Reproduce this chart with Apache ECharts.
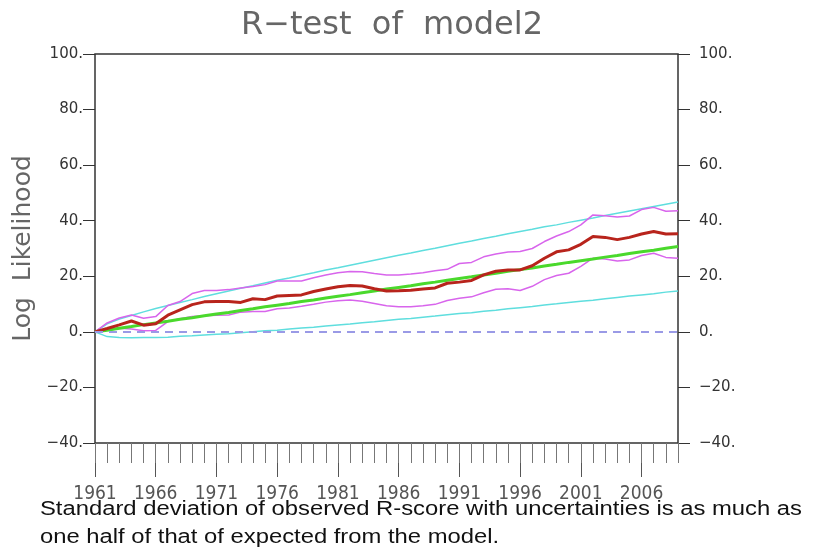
<!DOCTYPE html>
<html>
<head>
<meta charset="utf-8">
<title>R-test of model2</title>
<script src="https://cdn.jsdelivr.net/npm/echarts@6/dist/echarts.min.js"></script>
<style>
  html, body { margin: 0; padding: 0; background: #fff; }
  #main { width: 814px; height: 553px; }
</style>
</head>
<body>
<div id="main"></div>
<script>
// years 1961..2009
var years = [1961, 1962, 1963, 1964, 1965, 1966, 1967, 1968, 1969, 1970,
  1971, 1972, 1973, 1974, 1975, 1976, 1977, 1978, 1979, 1980,
  1981, 1982, 1983, 1984, 1985, 1986, 1987, 1988, 1989, 1990,
  1991, 1992, 1993, 1994, 1995, 1996, 1997, 1998, 1999, 2000,
  2001, 2002, 2003, 2004, 2005, 2006, 2007, 2008, 2009]
var tickYears = [1961, 1966, 1971, 1976, 1981, 1986, 1991, 1996, 2001, 2006]

// observed R-score (red)
var observed = [0, 1.2, 2.5, 3.9, 2.4, 2.9, 6.0, 7.9, 9.8, 10.8,
  10.9, 10.9, 10.6, 11.9, 11.6, 12.9, 13.1, 13.3, 14.5, 15.4,
  16.2, 16.7, 16.5, 15.5, 14.7, 14.8, 15.0, 15.4, 15.8, 17.5,
  17.9, 18.5, 20.5, 21.8, 22.3, 22.3, 23.8, 26.5, 28.8, 29.5,
  31.5, 34.3, 34.0, 33.2, 34.0, 35.2, 36.1, 35.2, 35.3]
// observed with uncertainties (magenta)
var obsUpper = [0, 3.2, 5.0, 6.1, 4.9, 5.5, 9.5, 10.9, 13.8, 14.9,
  14.9, 15.2, 15.8, 16.3, 17.0, 18.3, 18.3, 18.3, 19.5, 20.5,
  21.3, 21.7, 21.6, 21.0, 20.5, 20.5, 20.8, 21.3, 22.0, 22.5,
  24.6, 25.0, 27.0, 28.0, 28.7, 28.9, 30.0, 32.5, 34.5, 36.1,
  38.5, 42.1, 41.8, 41.3, 41.7, 44.0, 44.8, 43.4, 43.6]
var obsLower = [0, 0.8, 1.3, 1.0, 0.4, 0.5, 3.7, 4.7, 5.5, 5.8,
  6.0, 6.1, 7.1, 7.3, 7.3, 8.3, 8.6, 9.2, 9.9, 10.7,
  11.2, 11.5, 11.0, 10.2, 9.4, 9.0, 9.0, 9.4, 9.9, 11.3,
  12.1, 12.6, 14.1, 15.3, 15.5, 14.9, 16.4, 18.8, 20.3, 21.1,
  23.6, 26.5, 26.2, 25.5, 25.9, 27.5, 28.3, 26.8, 26.5]
// expected from the model (green) and its spread (cyan)
var expected = [0, 0.6, 1.3, 1.9, 2.6, 3.2, 3.8, 4.5, 5.1, 5.8,
  6.4, 7.0, 7.7, 8.3, 9.0, 9.6, 10.2, 10.9, 11.5, 12.2,
  12.8, 13.4, 14.1, 14.7, 15.4, 16.0, 16.6, 17.3, 17.9, 18.6,
  19.2, 19.8, 20.5, 21.1, 21.8, 22.4, 23.0, 23.7, 24.3, 25.0,
  25.6, 26.2, 26.9, 27.5, 28.2, 28.8, 29.4, 30.1, 30.7]
var expUpper = [0, 2.9, 4.6, 5.9, 7.2, 8.4, 9.5, 10.6, 11.6, 12.7,
  13.7, 14.7, 15.7, 16.6, 17.6, 18.6, 19.4, 20.4, 21.3, 22.3,
  23.1, 24.0, 24.9, 25.8, 26.7, 27.6, 28.4, 29.3, 30.1, 31.0,
  31.9, 32.7, 33.6, 34.4, 35.3, 36.1, 36.9, 37.8, 38.5, 39.4,
  40.2, 41.0, 41.9, 42.7, 43.5, 44.3, 45.1, 45.9, 46.7]
var expLower = [0, -1.7, -2.0, -2.1, -2.0, -2.0, -1.9, -1.6, -1.4, -1.1,
  -0.9, -0.7, -0.3, 0.0, 0.4, 0.6, 1.0, 1.4, 1.7, 2.1,
  2.5, 2.8, 3.3, 3.6, 4.1, 4.5, 4.8, 5.3, 5.7, 6.2,
  6.6, 6.9, 7.4, 7.8, 8.3, 8.7, 9.1, 9.7, 10.1, 10.6,
  11.0, 11.4, 11.9, 12.4, 12.9, 13.3, 13.7, 14.3, 14.7]

function pairs(vals) {
  return years.map(function (y, i) { return [y, vals[i]] })
}

var labelFont = 'DejaVu Sans'
var yLabel = function (v) { return String(v).replace('-', '\u2212') + '.' }

var chart = echarts.init(document.getElementById('main'))

var option = {
  animation: false,
  backgroundColor: '#fff',
  title: {
    text: 'R\u2212test  of  model2',
    left: 236,
    top: 5,
    textStyle: {
      fontFamily: labelFont,
      fontWeight: 'normal',
      fontSize: 32,
      color: '#666'
    }
  },
  grid: {
    left: 95,
    right: 136,
    top: 54,
    bottom: 110,
    show: true,
    borderColor: '#333',
    borderWidth: 1.5,
    backgroundColor: 'transparent'
  },
  xAxis: [
    {
      type: 'value',
      min: 1961,
      max: 2009,
      position: 'bottom',
      axisLine: { show: false, onZero: false },
      splitLine: { show: false },
      axisTick: {
        show: true,
        inside: false,
        length: 34,
        customValues: tickYears,
        lineStyle: { color: '#555', width: 1 }
      },
      axisLabel: {
        customValues: tickYears,
        margin: 42,
        fontFamily: 'Liberation Sans Narrow, DejaVu Sans Condensed, sans-serif',
        fontSize: 19,
        color: '#555',
        formatter: function (v) { return String(v) }
      }
    },
    {
      // yearly minor ticks
      type: 'value',
      min: 1961,
      max: 2009,
      interval: 1,
      position: 'bottom',
      axisLine: { show: false, onZero: false },
      splitLine: { show: false },
      axisLabel: { show: false },
      axisTick: {
        show: true,
        inside: false,
        length: 20,
        lineStyle: { color: '#777', width: 1 }
      }
    }
  ],
  yAxis: [
    {
      type: 'value',
      position: 'left',
      min: -40,
      max: 100,
      interval: 20,
      name: 'Log  Likelihood',
      nameLocation: 'middle',
      nameGap: 52,
      nameTextStyle: {
        fontFamily: labelFont,
        fontSize: 25,
        color: '#666'
      },
      axisLine: { show: false, onZero: false },
      splitLine: { show: false },
      axisTick: { show: true, inside: false, length: 12, lineStyle: { color: '#333' } },
      axisLabel: {
        margin: 12,
        fontFamily: labelFont,
        fontSize: 15,
        color: '#333',
        formatter: yLabel
      }
    },
    {
      type: 'value',
      position: 'right',
      min: -40,
      max: 100,
      interval: 20,
      axisLine: { show: false, onZero: false },
      splitLine: { show: false },
      axisTick: { show: true, inside: false, length: 12, lineStyle: { color: '#333' } },
      axisLabel: {
        margin: 21,
        fontFamily: labelFont,
        fontSize: 15,
        color: '#333',
        formatter: yLabel
      }
    }
  ],
  series: [
    {
      name: 'expected upper',
      type: 'line',
      data: pairs(expUpper),
      symbol: 'none',
      lineStyle: { color: '#5fdede', width: 1.5 },
      markLine: {
        silent: true,
        symbol: 'none',
        label: { show: false },
        lineStyle: { color: '#9a9ae6', width: 2, type: [8, 6] },
        data: [{ yAxis: 0 }]
      }
    },
    {
      name: 'expected lower',
      type: 'line',
      data: pairs(expLower),
      symbol: 'none',
      lineStyle: { color: '#5fdede', width: 1.5 }
    },
    {
      name: 'observed upper',
      type: 'line',
      data: pairs(obsUpper),
      symbol: 'none',
      lineStyle: { color: '#d865ec', width: 1.5 }
    },
    {
      name: 'observed lower',
      type: 'line',
      data: pairs(obsLower),
      symbol: 'none',
      lineStyle: { color: '#d865ec', width: 1.5 }
    },
    {
      name: 'expected',
      type: 'line',
      data: pairs(expected),
      symbol: 'none',
      lineStyle: { color: '#4ad92c', width: 3 }
    },
    {
      name: 'observed',
      type: 'line',
      data: pairs(observed),
      symbol: 'none',
      lineStyle: { color: '#b8241c', width: 3 }
    }
  ],
  graphic: [
    {
      type: 'text',
      left: 40,
      top: 499,
      scaleX: 1.19,
      style: {
        text: 'Standard deviation of observed R-score with uncertainties is as much as',
        font: '20px "Liberation Sans", Arial, sans-serif',
        fill: '#111'
      }
    },
    {
      type: 'text',
      left: 40,
      top: 527,
      scaleX: 1.19,
      style: {
        text: 'one half of that of expected from the model.',
        font: '20px "Liberation Sans", Arial, sans-serif',
        fill: '#111'
      }
    }
  ]
}

chart.setOption(option)
</script>
</body>
</html>
